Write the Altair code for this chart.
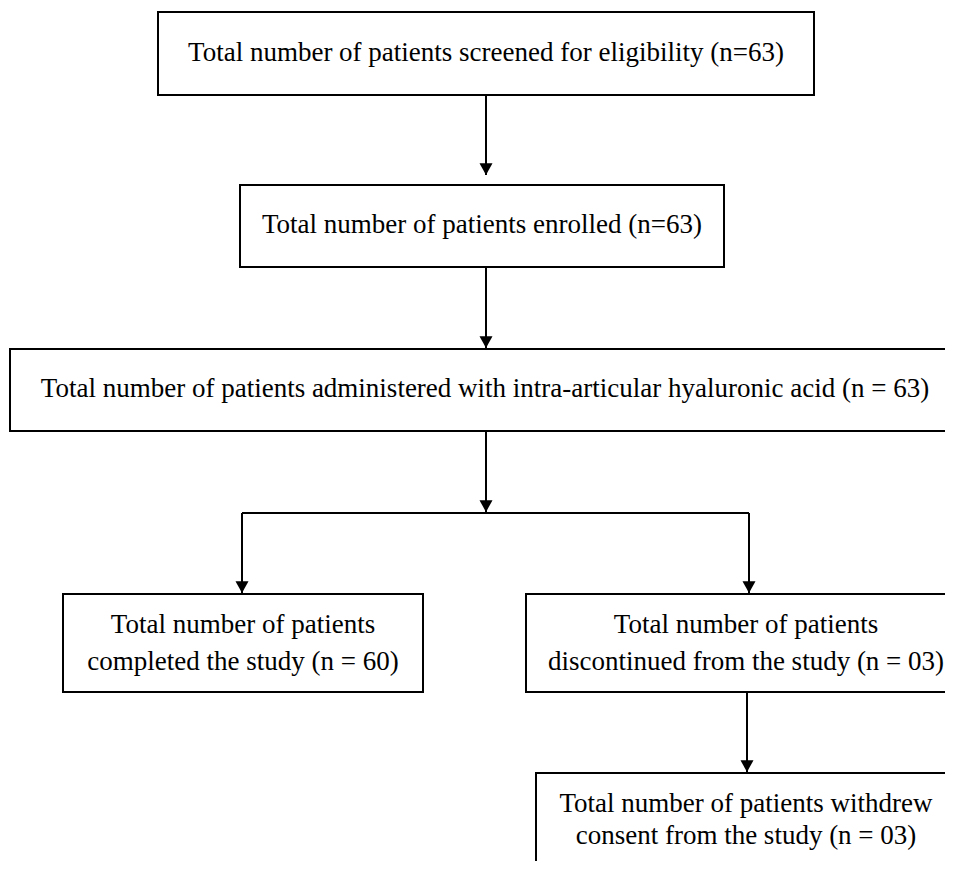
import altair as alt
import pandas as pd

# Flowchart boxes (reference pixel coordinates)
box_labels = [
    "Total number of patients screened for eligibility (n=63)",
    "Total number of patients enrolled (n=63)",
    "Total number of patients administered with intra-articular hyaluronic acid (n = 63)",
    "Total number of patients\ncompleted the study (n = 60)",
    "Total number of patients\ndiscontinued from the study (n = 03)",
    "Total number of patients withdrew\nconsent from the study (n = 03)",
]
box_x1 = [158, 240, 10, 63, 526, 536]
box_x2 = [814, 724, 962, 423, 968, 958]
box_y1 = [12, 185, 349, 594, 594, 773]
box_y2 = [95, 267, 431, 692, 692, 900]
# position of the first text line in each box
text_x = [486, 482, 485, 243, 746, 746]
text_y = [53, 225, 389, 625, 625, 804]
text_lh = [37, 37, 37, 37, 37, 32]

# Connector segments
seg_x1 = [486, 486, 486, 242, 242, 749, 747]
seg_y1 = [95, 267, 431, 513, 513, 513, 692]
seg_x2 = [486, 486, 486, 749, 242, 749, 747]
seg_y2 = [175, 348, 512, 513, 593, 593, 772]

# Arrow tips
tip_x = [486, 486, 486, 242, 749, 747]
tip_y = [175, 348, 512, 593, 593, 772]

boxes = pd.DataFrame({"x1": box_x1, "x2": box_x2, "y1": box_y1, "y2": box_y2})
texts = pd.DataFrame({"label": box_labels, "x": text_x, "y": text_y, "lh": text_lh})
segs = pd.DataFrame({"x1": seg_x1, "y1": seg_y1, "x2": seg_x2, "y2": seg_y2})
tips = pd.DataFrame({"x": tip_x, "y": tip_y})

W, H = 937, 853
xs = alt.Scale(domain=[8, 8 + W], nice=False, zero=False)
ys = alt.Scale(domain=[8, 8 + H], nice=False, zero=False, reverse=True)

rects = alt.Chart(boxes).mark_rect(
    fill="white", stroke="black", strokeWidth=2, clip=True
).encode(
    x=alt.X("x1:Q", scale=xs, axis=None),
    x2="x2:Q",
    y=alt.Y("y1:Q", scale=ys, axis=None),
    y2="y2:Q",
)

rules = alt.Chart(segs).mark_rule(color="black", strokeWidth=2, clip=True).encode(
    x=alt.X("x1:Q", scale=xs, axis=None),
    x2="x2:Q",
    y=alt.Y("y1:Q", scale=ys, axis=None),
    y2="y2:Q",
)

heads = alt.Chart(tips).mark_point(
    shape="M-1,-1.8L1,-1.8L0,0Z", filled=True, color="black", opacity=1, size=169, strokeWidth=0
).encode(
    x=alt.X("x:Q", scale=xs, axis=None),
    y=alt.Y("y:Q", scale=ys, axis=None),
)

def text_layer(df, lh):
    return alt.Chart(df).mark_text(
        font="Liberation Serif", fontSize=27, color="black",
        align="center", baseline="middle", lineBreak="\n", lineHeight=lh
    ).encode(
        x=alt.X("x:Q", scale=xs, axis=None),
        y=alt.Y("y:Q", scale=ys, axis=None),
        text="label:N",
    )

t1 = text_layer(texts[texts.lh == 37], 37)
t2 = text_layer(texts[texts.lh == 32], 32)

chart = alt.layer(rects, rules, heads, t1, t2).properties(
    width=W, height=H, padding=0, background="white",
    autosize=alt.AutoSizeParams(type="none")
).configure_view(strokeWidth=0, stroke="transparent")

chart.save("out.html", embed_options={"renderer": "svg", "actions": False})
